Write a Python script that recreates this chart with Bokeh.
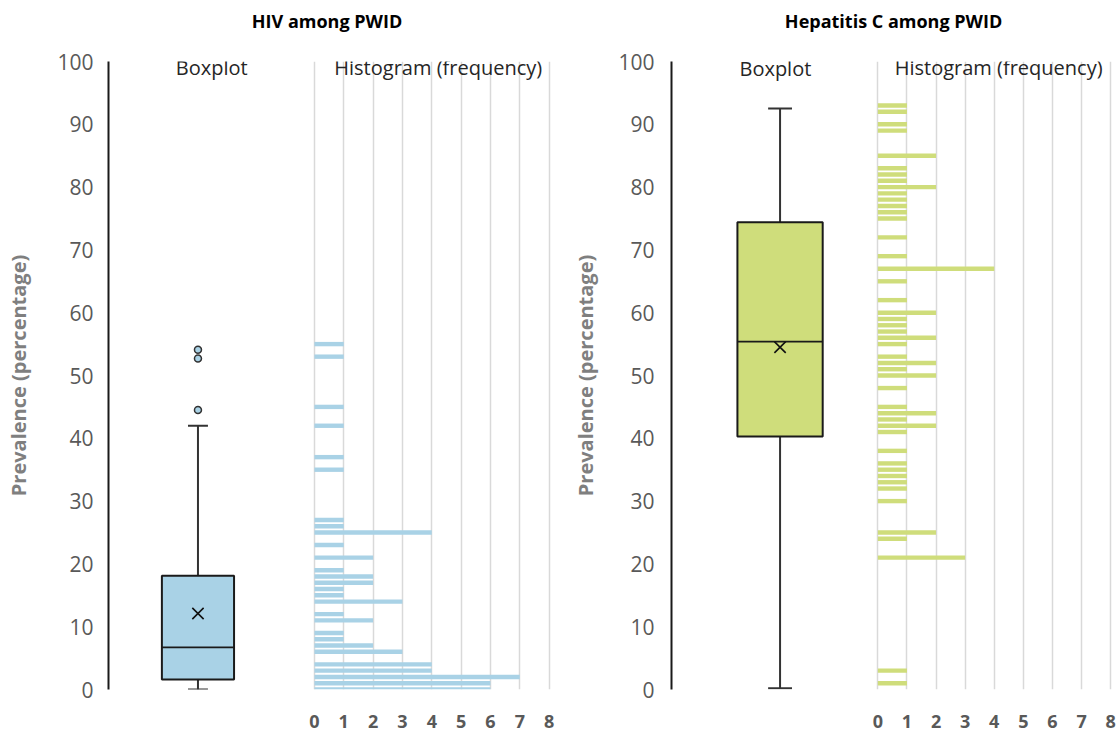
from bokeh.plotting import figure
from bokeh.models import Range1d, FixedTicker, Label, ColumnDataSource
from bokeh.layouts import row, column
from bokeh.embed import file_html
from bokeh.resources import INLINE

# ---------------- data ----------------
hist_ticks = [0, 1, 2, 3, 4, 5, 6, 7, 8]
y_ticks = [0, 10, 20, 30, 40, 50, 60, 70, 80, 90, 100]

# HIV among PWID: histogram (prevalence value -> frequency)
hiv_values = [0, 1, 2, 3, 4, 6, 7, 8, 9, 11, 12, 14, 15, 16, 17, 18, 19, 21, 23, 25, 26, 27, 35, 37, 42, 45, 53, 55]
hiv_freq = [6, 6, 7, 4, 4, 3, 2, 1, 1, 2, 1, 3, 1, 1, 2, 2, 1, 2, 1, 4, 1, 1, 1, 1, 1, 1, 1, 1]
# HIV boxplot statistics
hiv_stats = [0.0, 1.6, 6.7, 18.1, 42.0]   # min, q1, median, q3, max
hiv_mean = [12.1]
hiv_outliers = [44.5, 52.7, 54.1]

# Hepatitis C among PWID
hcv_values = [1, 3, 21, 24, 25, 30, 32, 33, 34, 35, 36, 38, 41, 42, 43, 44, 45, 48, 50, 51, 52, 53, 55, 56, 57, 58,
              59, 60, 62, 65, 67, 69, 72, 75, 76, 77, 78, 79, 80, 81, 82, 83, 85, 89, 90, 92, 93]
hcv_freq = [1, 1, 3, 1, 2, 1, 1, 1, 1, 1, 1, 1, 1, 2, 1, 2, 1, 1, 2, 1, 2, 1, 1, 2, 1, 1,
            1, 2, 1, 1, 4, 1, 1, 1, 1, 1, 1, 1, 2, 1, 1, 1, 2, 1, 1, 1, 1]
hcv_stats = [0.2, 40.3, 55.4, 74.4, 92.5]
hcv_mean = [54.5]
hcv_outliers = []

titles = ["HIV among PWID", "Hepatitis C among PWID"]
y_label = "Prevalence (percentage)"
sub_labels = ["Boxplot", "Histogram (frequency)"]

HIV_COLOR = "#A9D2E6"
HCV_COLOR = "#CFDD7B"
FONT = "Open Sans"
TICK_GRAY = "#595959"
TITLE_H = 40


def title_fig(title, cfg):
    t = figure(width=559, height=TITLE_H, output_backend="svg", toolbar_location=None,
               x_range=Range1d(cfg["x0"], cfg["x1"]), y_range=Range1d(0, TITLE_H),
               x_axis_type=None, y_axis_type=None,
               min_border_left=cfg["bl"], min_border_right=cfg["br"],
               min_border_top=0, min_border_bottom=0)
    t.outline_line_color = None
    t.grid.visible = False
    t.add_layout(Label(x=cfg["tx"], y=cfg["ty"], text=title, text_align="center",
                       text_baseline="middle", text_font=FONT, text_font_size="18px",
                       text_font_style="bold", text_color="#000000"))
    return t


def panel(values, freq, stats, mean, outliers, color, cfg):
    p = figure(width=559, height=733 - TITLE_H, output_backend="svg", toolbar_location=None,
               x_range=Range1d(cfg["x0"], cfg["x1"]), y_range=Range1d(y_ticks[0], y_ticks[-1]),
               min_border_left=cfg["bl"], min_border_right=cfg["br"],
               min_border_top=cfg["bt"] - TITLE_H, min_border_bottom=44)
    p.outline_line_color = None
    p.background_fill_color = "white"
    p.border_fill_color = "white"

    # grids
    p.ygrid.grid_line_color = None
    p.xgrid.ticker = FixedTicker(ticks=hist_ticks)
    p.xgrid.grid_line_color = "#D9D9D9"
    p.xgrid.grid_line_width = 1.5

    # y axis
    ya = p.yaxis[0]
    ya.ticker = FixedTicker(ticks=y_ticks)
    ya.axis_line_color = "#1A1A1A"
    ya.axis_line_width = 2
    ya.major_tick_line_color = None
    ya.minor_tick_line_color = None
    ya.major_tick_out = 0
    ya.major_tick_in = 0
    ya.major_label_standoff = cfg["yls"]
    ya.major_label_text_font = FONT
    ya.major_label_text_font_size = "21px"
    ya.major_label_text_color = TICK_GRAY
    ya.axis_label = y_label
    ya.axis_label_text_font = FONT
    ya.axis_label_text_font_size = "20px"
    ya.axis_label_text_font_style = "bold"
    ya.axis_label_text_color = "#7F7F7F"
    ya.axis_label_standoff = cfg["yas"]

    # x axis (histogram frequency)
    xa = p.xaxis[0]
    xa.ticker = FixedTicker(ticks=hist_ticks)
    xa.axis_line_color = None
    xa.major_tick_line_color = None
    xa.minor_tick_line_color = None
    xa.major_tick_out = 0
    xa.major_tick_in = 0
    xa.major_label_standoff = 25
    xa.major_label_text_font = FONT
    xa.major_label_text_font_size = "18px"
    xa.major_label_text_font_style = "bold"
    xa.major_label_text_color = TICK_GRAY

    # histogram bars
    src = ColumnDataSource(dict(y=values, right=freq))
    p.hbar(y="y", left=0, right="right", height=0.7, source=src,
           fill_color=color, line_color=None)

    # boxplot
    c = cfg["bx"]
    w = cfg["bw"]
    cw = cfg["cw"]
    lo, q1, med, q3, hi = stats
    p.segment(x0=[c, c], y0=[q3, q1], x1=[c, c], y1=[hi, lo], line_color="#333333", line_width=2)
    p.segment(x0=[c - cw / 2, c - cw / 2], y0=[hi, lo], x1=[c + cw / 2, c + cw / 2], y1=[hi, lo],
              line_color="#333333", line_width=2)
    p.vbar(x=[c], width=w, bottom=[q1], top=[q3], fill_color=color,
           line_color="#1A1A1A", line_width=2)
    p.segment(x0=[c - w / 2], y0=[med], x1=[c + w / 2], y1=[med], line_color="#1A1A1A", line_width=1.8)
    p.scatter(x=[c] * len(mean), y=mean, marker="x", size=16, line_color="#111111", line_width=1.6)
    if outliers:
        p.scatter(x=[c] * len(outliers), y=outliers, marker="circle", size=7,
                  fill_color=color, line_color="#333333", line_width=1.5)

    # sub-labels
    p.add_layout(Label(x=cfg["lbx"], y=cfg["lby"], text=sub_labels[0], text_align="center",
                       text_baseline="middle", text_font=FONT, text_font_size="20px",
                       text_color="#262626"))
    p.add_layout(Label(x=cfg["lhx"], y=cfg["lhy"], text=sub_labels[1], text_align="center",
                       text_baseline="middle", text_font=FONT, text_font_size="20px",
                       text_color="#262626"))
    return p


left_cfg = dict(x0=-7.02, x1=8.32, bl=108, br=1, bt=61, yls=15, yas=22, tx=0.43, ty=19.5,
                bx=-3.97, bw=2.46, cw=0.68, lbx=-3.5, lby=99.0, lhx=4.22, lhy=99.0)
right_cfg = dict(x0=-7.09, x1=8.20, bl=112, br=2, bt=58, yls=17, yas=16, tx=0.54, ty=19.5,
                 bx=-3.36, bw=2.93, cw=0.82, lbx=-3.52, lby=98.9, lhx=4.15, lhy=99.1)

t1 = title_fig(titles[0], left_cfg)
t2 = title_fig(titles[1], right_cfg)
p1 = panel(hiv_values, hiv_freq, hiv_stats, hiv_mean, hiv_outliers, HIV_COLOR, left_cfg)
p2 = panel(hcv_values, hcv_freq, hcv_stats, hcv_mean, hcv_outliers, HCV_COLOR, right_cfg)

layout = column(row(t1, t2), row(p1, p2))
open("out.html", "w").write(file_html(layout, INLINE))
